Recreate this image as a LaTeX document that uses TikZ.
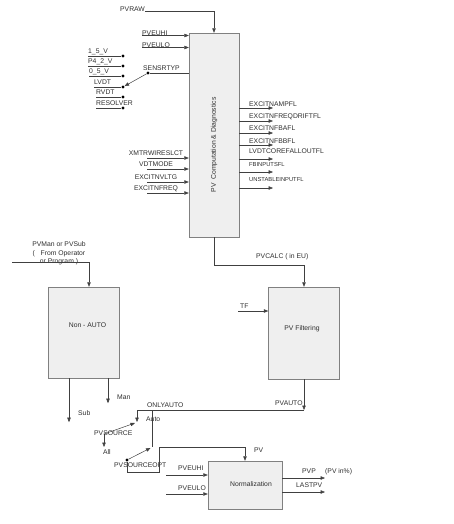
\documentclass[tikz,border=0pt]{standalone}
\usepackage{fontspec}
\setmainfont{Liberation Sans}
\usetikzlibrary{arrows.meta}
\definecolor{boxfill}{HTML}{EFEFEF}
\definecolor{boxline}{HTML}{808080}
\definecolor{txt}{HTML}{2E2E2E}
\tikzset{
    block/.style={draw=boxline, fill=boxfill, inner sep=0pt},
    lbl/.style={inner sep=0pt, text=txt, font=\fontsize{6.8}{8}\selectfont},
    small/.style={lbl, font=\fontsize{5.8}{7}\selectfont},
    wire/.style={draw=black!75, line width=0.5pt},
    arr/.style={wire, -{Triangle[length=4.5pt,width=3.5pt]}},
    pin/.style={circle, fill=black, inner sep=0pt, minimum size=3.2pt}
}
\begin{document}
\begin{tikzpicture}[x=1pt,y=-1pt]
        \useasboundingbox (0,0) rectangle (454,524);
        % blocks
        \node[block, minimum width=50pt, minimum height=204pt] (comp) at (214,135) {};
        \node[lbl, rotate=90] (compl) at (214,145) {PV\ \ Computation \& Diagnostics};
        \node[block, minimum width=71pt, minimum height=92pt] (filt) at (304,333) {};
        \node[lbl] (filtl) at (302,329) {PV Filtering};
        \node[block, minimum width=71pt, minimum height=91pt] (nauto) at (83.5,332.5) {};
        \node[lbl] (nautol) at (87.5,325) {Non - AUTO};
        \node[block, minimum width=74pt, minimum height=48pt] (norm) at (245,485) {};
        \node[lbl] (norml) at (251,484) {Normalization};
        % inputs of the computation block
        \node[lbl, anchor=base west] (pvraw) at (120,11.5) {PVRAW};
        \draw[arr] (pvraw.base east) -| (comp.north);
        \node[lbl, anchor=base west] (euhi) at (142,35.5) {PVEUHI};
        \draw[arr] (euhi.base west) -- (euhi.base west -| comp.west);
        \node[lbl, anchor=base west] (eulo) at (142,47.5) {PVEULO};
        \draw[arr] (eulo.base west) -- (eulo.base west -| comp.west);
        \foreach \t/\x/\y [count=\i] in {1\_5\_V/88/56, P4\_2\_V/88/66, 0\_5\_V/89/76, LVDT/94/87, RVDT/96/97, RESOLVER/96/108}{
            \node[lbl, anchor=base west] (opt\i) at (\x,\y-2) {\t};
            \node[pin] (sel\i) at (123,\y) {};
            \draw[wire] (opt\i.base west |- sel\i) -- (sel\i);
        }
        \node[lbl, anchor=base west] (sensl) at (143,71) {SENSRTYP};
        \node[pin] (sens) at (148,73) {};
        \draw[wire] (sens) -- (sens -| comp.west);
        \draw[arr] (sens) -- (sel4);
        \foreach \t/\y [count=\i] in {XMTRWIRESLCT/158, VDTMODE/169, EXCITNVLTG/182, EXCITNFREQ/193}{
            \node[lbl, anchor=base] (cfg\i) at (156,\y-2.5) {\t};
            \coordinate (cfgs\i) at (147,\y);
            \draw[arr] (cfgs\i) -- (cfgs\i -| comp.west);
        }
        % flags
        \foreach \t/\ty/\ly [count=\i] in {EXCITNAMPFL/104/108, EXCITNFREQDRIFTFL/116/121, EXCITNFBAFL/128/133, EXCITNFBBFL/141/145, LVDTCOREFALLOUTFL/151/159}{
            \node[lbl, anchor=base west] (fl\i) at (249,\ty+2.4) {\t};
            \coordinate (flt\i) at (273,\ly);
            \draw[arr] (flt\i -| comp.east) -- (flt\i);
        }
        \node[small, anchor=base west] (fl6) at (249,166) {FBINPUTSFL};
        \coordinate (flt6) at (273,172);
        \draw[arr] (flt6 -| comp.east) -- (flt6);
        \node[small, anchor=base west] (fl7) at (249,181) {UNSTABLEINPUTFL};
        \coordinate (flt7) at (273,188);
        \draw[arr] (flt7 -| comp.east) -- (flt7);
        % filtering
        \node[lbl, anchor=base west] (calc) at (256,258.5) {PVCALC ( in EU)};
        \draw[arr] (comp.south) -- ++(0,28) -| (filt.north);
        \node[lbl, anchor=base west] (tf) at (240,308.5) {TF};
        \coordinate (tfs) at (238,311);
        \draw[arr] (tfs) -- (tfs -| filt.west);
        % non-auto
        \node[lbl, align=center, font=\fontsize{6.8}{8.5}\selectfont] (mansrc) at (59,253.5) {PVMan or PVSub\\(~~~From Operator\\or Program )};
        \coordinate (manin) at (12,262);
        \draw[arr] (manin) -| ([xshift=5.5pt]nauto.north);
        \draw[arr] ([xshift=-14.5pt]nauto.south) -- ++(0,44) coordinate (subT);
        \draw[arr] ([xshift=24.5pt]nauto.south) -- ++(0,25) coordinate (manT);
        \node[lbl, anchor=base west] (subl) at (78,415.5) {Sub};
        \node[lbl, anchor=base west] (manl) at (117,399.5) {Man};
        % source switches
        \coordinate (pvauto) at (304,410);
        \coordinate (autoT) at (137,422);
        \coordinate (jn) at (152,410);
        \coordinate (onlyT) at (152,447);
        \draw[arr] (filt.south) -- (pvauto);
        \draw[arr] (pvauto) -| (autoT);
        \draw[wire] (jn) -- (onlyT);
        \node[lbl, anchor=base west] (pvautol) at (275,405.5) {PVAUTO};
        \node[lbl, anchor=base west] (onlyl) at (147,407) {ONLYAUTO};
        \node[lbl, anchor=base west] (autol) at (146,421.5) {Auto};
        \coordinate (srcpiv) at (104,434);
        \coordinate (allT) at (104,447);
        \draw[arr] (srcpiv) -- ([xshift=-2pt,yshift=-1pt]autoT);
        \draw[arr] (srcpiv) -- (allT);
        \node[lbl, anchor=base west] (srcl) at (94,435.5) {PVSOURCE};
        \node[lbl, anchor=base west] (alll) at (103,454.5) {All};
        \node[pin] (optpiv) at (127,460) {};
        \draw[arr] (optpiv) -- ([xshift=-1.5pt,yshift=-1pt]onlyT);
        \node[lbl, anchor=base west] (optl) at (114,467.5) {PVSOURCEOPT};
        % normalization
        \coordinate (optlow) at (159,472);
        \coordinate (pvtop) at (159,447);
        \draw[arr] (optpiv) |- (optlow) -- (pvtop) -| (norm.north);
        \node[lbl, anchor=base west] (pvl) at (254,452) {PV};
        \node[lbl, anchor=base west] (euhib) at (178,470.5) {PVEUHI};
        \coordinate (euhibs) at (166,475);
        \draw[arr] (euhibs) -- (euhibs -| norm.west);
        \node[lbl, anchor=base west] (eulob) at (178,490.5) {PVEULO};
        \coordinate (eulobs) at (166,494);
        \draw[arr] (eulobs) -- (eulobs -| norm.west);
        \coordinate (pvpT) at (325,478);
        \draw[arr] (pvpT -| norm.east) -- (pvpT);
        \node[lbl, anchor=base west] (pvpl) at (302,473) {PVP};
        \node[lbl, anchor=base west] (pvpct) at (325,473) {(PV in\%)};
        \coordinate (lastT) at (325,492);
        \draw[arr] (lastT -| norm.east) -- (lastT);
        \node[lbl, anchor=base west] (lastl) at (296,487.5) {LASTPV};
\end{tikzpicture}
\end{document}
